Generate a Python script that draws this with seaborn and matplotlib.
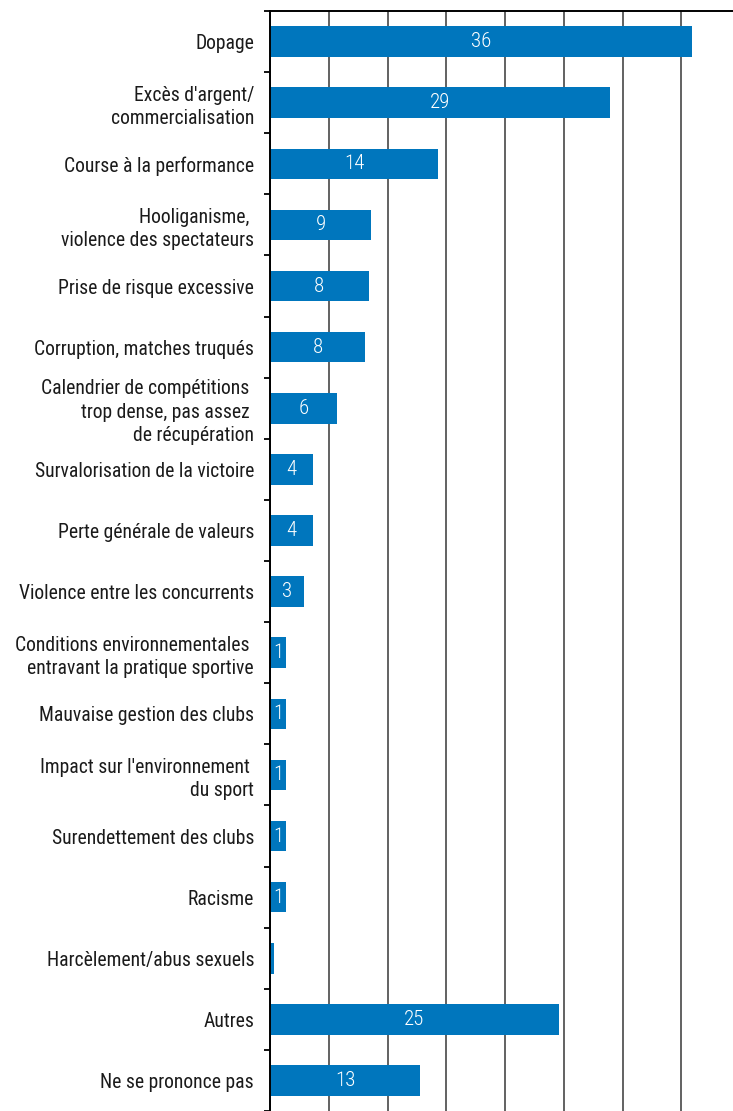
import matplotlib
matplotlib.use("Agg")
import matplotlib.pyplot as plt
from matplotlib import font_manager
from matplotlib.font_manager import FontProperties
import seaborn as sns
import numpy as np
import glob
import os

categories = [
    "Dopage",
    "Excès d'argent/\ncommercialisation",
    "Course à la performance",
    "Hooliganisme, \nviolence des spectateurs",
    "Prise de risque excessive",
    "Corruption, matches truqués",
    "Calendrier de compétitions \ntrop dense, pas assez \nde récupération",
    "Survalorisation de la victoire",
    "Perte générale de valeurs",
    "Violence entre les concurrents",
    "Conditions environnementales \nentravant la pratique sportive",
    "Mauvaise gestion des clubs",
    "Impact sur l'environnement \ndu sport",
    "Surendettement des clubs",
    "Racisme",
    "Harcèlement/abus sexuels",
    "Autres",
    "Ne se prononce pas",
]
values = [35.9, 28.9, 14.3, 8.6, 8.4, 8.1, 5.7, 3.7, 3.7, 2.9,
          1.4, 1.4, 1.4, 1.4, 1.4, 0.3, 24.6, 12.8]
value_labels = ["36", "29", "14", "9", "8", "8", "6", "4", "4", "3",
                "1", "1", "1", "1", "1", "", "25", "13"]
grid_ticks = [0, 5, 10, 15, 20, 25, 30, 35]

# ---- find a condensed font file if any -------------------------------
files = [f.fname for f in font_manager.fontManager.ttflist]
for pattern in ["/usr/share/fonts/**/*.ttf", "/usr/share/fonts/**/*.otf",
                "/usr/local/share/fonts/**/*.ttf"]:
    files += glob.glob(pattern, recursive=True)
files = list(dict.fromkeys(files))

def find_font(keys):
    for key in keys:
        for fp in files:
            if key.lower() in os.path.basename(fp).lower():
                return fp
    return None

font_path = find_font(["LiberationSansNarrow-Regular", "RobotoCondensed-Regular",
                       "Roboto_Condensed-Regular", "OpenSans_Condensed-Regular",
                       "OpenSansCondensed-Regular", "DejaVuSansCondensed."])
light_path = find_font(["RobotoCondensed-Light", "Roboto_Condensed-Light"]) or font_path

def make_prop(size, path=None):
    path = path or font_path
    if path:
        return FontProperties(fname=path, size=size)
    return FontProperties(family="DejaVu Sans", size=size)

sns.set_theme(style="white")
plt.rcParams["font.family"] = ["DejaVu Sans"]

fig = plt.figure(figsize=(7.33, 11.11), dpi=100)

# choose font size so a reference line has the reference width (221 px)
probe = fig.text(0, 0, "Survalorisation de la victoire", fontproperties=make_prop(14))
fig.canvas.draw()
w = probe.get_window_extent().width
probe.remove()
fsize = min(14 * 221.0 / w, 15.5)
label_prop = make_prop(fsize)

ax = fig.add_axes([270 / 733, 0.0, 1 - 270 / 733, 1 - 11 / 1111])

sns.barplot(x=values, y=categories, orient="h", color="#0076BD",
            width=0.5, saturation=1, linewidth=0, edgecolor="none", ax=ax)

texts = ax.bar_label(ax.containers[0], labels=value_labels, label_type="center",
                     color="white")
for t in texts:
    t.set_fontproperties(make_prop(fsize + 1, light_path))

ax.set_xlim(0, 39.4)
ax.set_ylim(len(categories) - 0.5, -0.5)
ax.set_xticks(grid_ticks)
ax.xaxis.grid(True, color="#555555", linewidth=1.3)
ax.yaxis.grid(False)
ax.set_axisbelow(True)
ax.tick_params(axis="x", length=0, labelbottom=False)

ax.set_yticks(range(len(categories)))
ax.set_yticklabels(categories, color="#1a1a1a")
for t in ax.get_yticklabels():
    t.set_fontproperties(label_prop)
    t.set_linespacing(1.3)
ax.tick_params(axis="y", which="major", length=0, pad=11.5)
ax.set_yticks(np.arange(-0.5, len(categories), 1.0), minor=True)
ax.tick_params(axis="y", which="minor", length=4, width=1.3,
               color="black", direction="out", left=True)

for side in ["right", "bottom"]:
    ax.spines[side].set_visible(False)
for side in ["left", "top"]:
    ax.spines[side].set_visible(True)
    ax.spines[side].set_color("black")
    ax.spines[side].set_linewidth(1.4)
ax.set_xlabel("")
ax.set_ylabel("")

fig.savefig("out.png", dpi=100)
